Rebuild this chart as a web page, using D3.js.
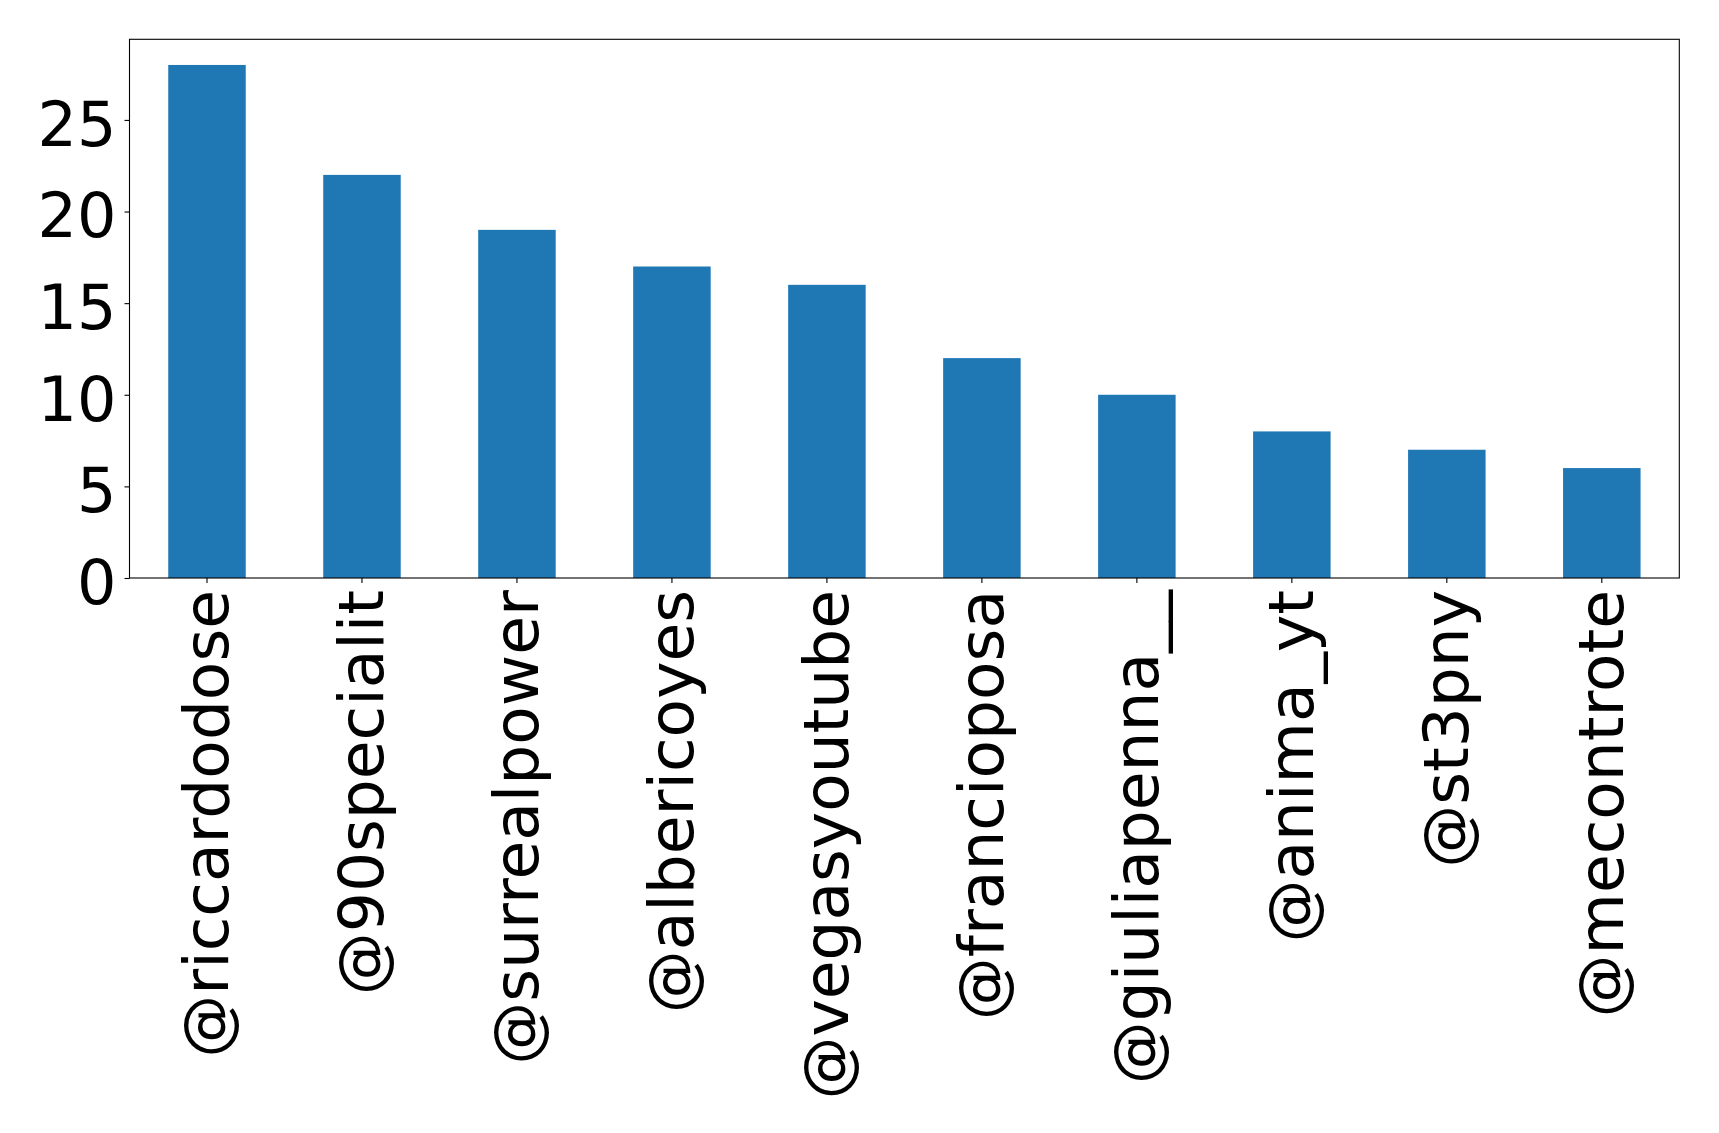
<!DOCTYPE html>
<html>
<head>
<meta charset="utf-8">
<script src="https://cdn.jsdelivr.net/npm/d3@7"></script>
<style>
  body { margin: 0; background: #fff; }
  text { font-family: "DejaVu Sans", sans-serif; }
</style>
</head>
<body>
<script>
const categories = ["@riccardodose", "@90specialit", "@surrealpower", "@albericoyes", "@vegasyoutube",
  "@francioposa", "@giuliapenna__", "@anima_yt", "@st3pny", "@mecontrote"]
const counts = [28, 22, 19, 17, 16, 12, 10, 8, 7, 6]
const yTicks = [0, 5, 10, 15, 20, 25]

const svgWidth = 1719
const svgHeight = 1133
const margin = { top: 39.3, right: 39.7, bottom: 555, left: 129.5 }
const chartWidth = svgWidth - margin.left - margin.right
const chartHeight = svgHeight - margin.top - margin.bottom

const svg = d3.select("body").append("svg")
  .attr("width", svgWidth)
  .attr("height", svgHeight)

const chartG = svg.append("g")
  .attr("transform", `translate(${margin.left}, ${margin.top})`)

// matplotlib-style band: bar width 0.5 of the slot
const x = d3.scaleBand()
  .domain(categories)
  .range([0, chartWidth])
  .paddingInner(0.5)
  .paddingOuter(0.25)

const y = d3.scaleLinear()
  .domain([0, d3.max(counts) * 1.05])
  .range([chartHeight, 0])

chartG.selectAll("rect.bar")
  .data(counts)
  .enter()
  .append("rect")
  .attr("class", "bar")
  .attr("x", (d, i) => x(categories[i]))
  .attr("y", d => y(d))
  .attr("width", x.bandwidth())
  .attr("height", d => chartHeight - y(d))
  .attr("fill", "#1f77b4")

const yAxisG = chartG.append("g")
  .call(d3.axisLeft(y).tickValues(yTicks).tickSize(5).tickPadding(8))
yAxisG.select(".domain").remove()
yAxisG.selectAll("line").attr("stroke", "#000").attr("stroke-width", 1.1)
yAxisG.selectAll("text")
  .attr("font-size", 62)
  .attr("fill", "#000")
  .attr("dy", "0.41em")

const xAxisG = chartG.append("g")
  .attr("transform", `translate(0, ${chartHeight})`)
  .call(d3.axisBottom(x).tickSize(5).tickPadding(10))
xAxisG.select(".domain").remove()
xAxisG.selectAll("line").attr("stroke", "#000").attr("stroke-width", 1.1)
xAxisG.selectAll("text")
  .attr("font-size", 63)
  .attr("fill", "#000")
  .attr("text-anchor", "end")
  .attr("transform", "rotate(-90)")
  .attr("x", -12)
  .attr("y", 0)
  .attr("dy", "0.33em")

// frame
chartG.append("rect")
  .attr("width", chartWidth)
  .attr("height", chartHeight)
  .attr("fill", "none")
  .attr("stroke", "#000")
  .attr("stroke-width", 1.1)
</script>
</body>
</html>
